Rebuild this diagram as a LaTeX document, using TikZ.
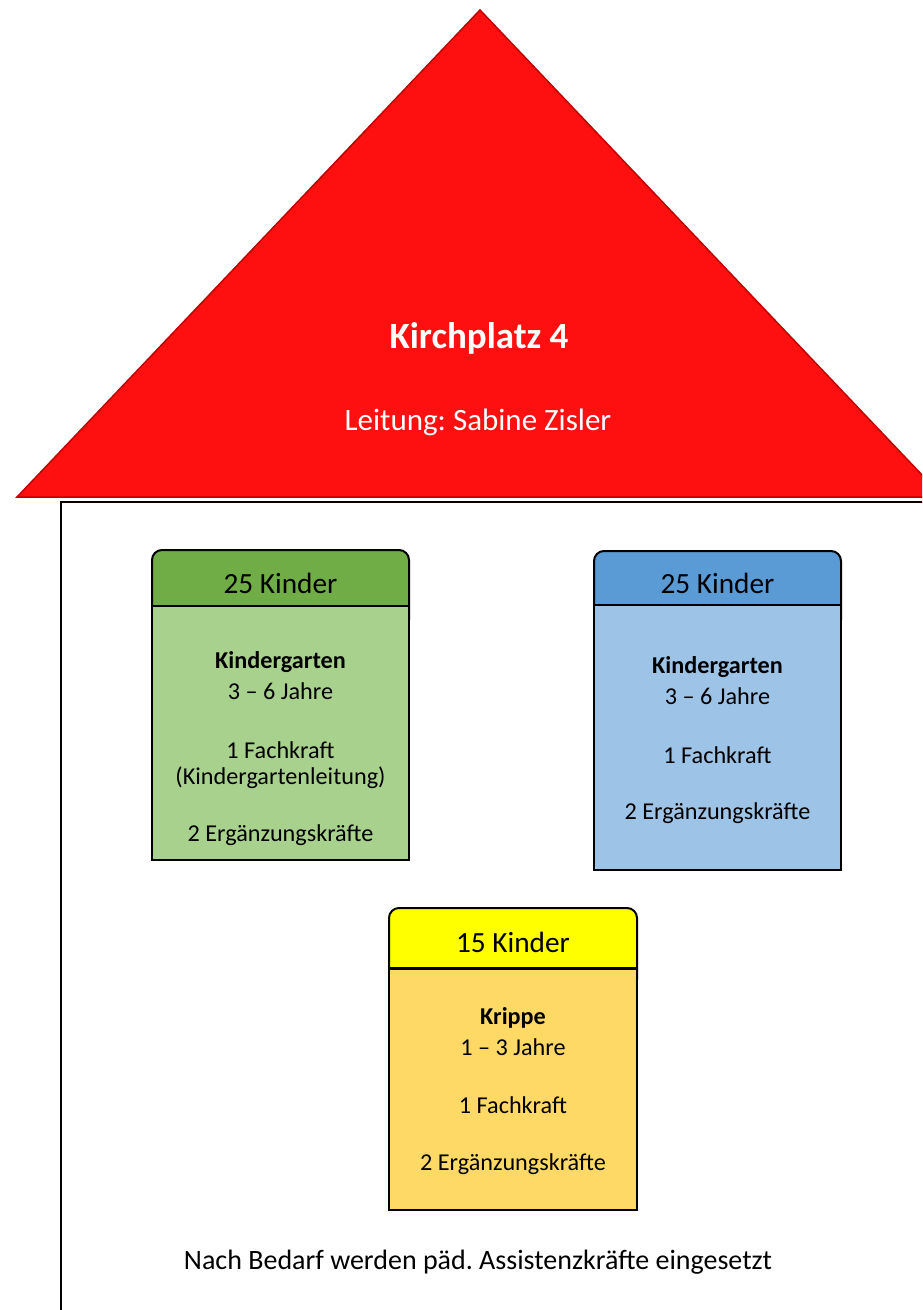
\documentclass[tikz,border=0pt]{standalone}
\usepackage{fontspec}
\setmainfont{Carlito}
\definecolor{roofred}{HTML}{FF1010}
\definecolor{roofedge}{HTML}{C00000}
\definecolor{ghead}{HTML}{70AD47}
\definecolor{gbody}{HTML}{A9D18E}
\definecolor{bhead}{HTML}{5B9BD5}
\definecolor{bbody}{HTML}{9DC3E6}
\definecolor{yhead}{HTML}{FFFF00}
\definecolor{ybody}{HTML}{FFD966}
\tikzset{
  boxline/.style={draw=black, line width=2pt},
  hdr/.style={font=\fontsize{29.3}{35}\selectfont, inner sep=0pt, anchor=center},
  body/.style={font=\fontsize{24.2}{29}\selectfont, inner sep=0pt, anchor=center},
  bodyb/.style={font=\fontsize{24.2}{29}\selectfont\bfseries, inner sep=0pt, anchor=center},
}
\begin{document}
\frenchspacing
\begin{tikzpicture}[x=1pt,y=-1pt]
\useasboundingbox (0,0) rectangle (922,1310);
\clip (0,0) rectangle (922,1310);
% roof
\draw[fill=roofred, draw=roofedge, line width=1.5pt, line join=miter] (480,10) -- (17,497) -- (943,497) -- cycle;
% house
\draw[line width=2pt] (61,1330) -- (61,502) -- (940,502);
% green box
\draw[boxline, fill=ghead, rounded corners=10pt] (152,550) rectangle (409,630);
\draw[boxline, fill=gbody] (152,606) rectangle (409,860);
\draw[line width=2.5pt] (152,606) -- (409,606);
% blue box
\draw[boxline, fill=bhead, rounded corners=10pt] (594,551) rectangle (841,630);
\draw[boxline, fill=bbody] (594,605) rectangle (841,870);
\draw[line width=2.5pt] (594,605) -- (841,605);
% yellow box
\draw[boxline, fill=yhead, rounded corners=10pt] (389,908) rectangle (637,990);
\draw[boxline, fill=ybody] (389,968) rectangle (637,1210);
\draw[line width=3pt] (389,968) -- (637,968);
% roof texts
\node[font=\fontsize{37}{44}\selectfont\bfseries, text=white, inner sep=0pt] (title) at (479,338) {Kirchplatz 4};
\node[font=\fontsize{31}{38}\selectfont, text=white, inner sep=0pt] (lead) at (478,422) {Leitung: Sabine Zisler};
% green texts
\node[hdr] (g0) at (280.5,583) {25 Kinder};
\node[bodyb] (g1) at (280.5,662) {Kindergarten};
\node[body] (g2) at (280.5,691) {3 – 6 Jahre};
\node[body] (g3) at (280.5,750) {1 Fachkraft};
\node[body] (g4) at (280.5,778) {(Kindergartenleitung)};
\node[body] (g5) at (280.5,835) {2 Ergänzungskräfte};
% blue texts
\node[hdr] (b0) at (717.5,583) {25 Kinder};
\node[bodyb] (b1) at (717.5,667) {Kindergarten};
\node[body] (b2) at (717.5,696) {3 – 6 Jahre};
\node[body] (b3) at (717.5,755) {1 Fachkraft};
\node[body] (b4) at (717.5,813) {2 Ergänzungskräfte};
% yellow texts
\node[hdr] (y0) at (513,942) {15 Kinder};
\node[bodyb] (y1) at (513,1018) {Krippe};
\node[body] (y2) at (513,1047) {1 – 3 Jahre};
\node[body] (y3) at (513,1105) {1 Fachkraft};
\node[body] (y4) at (513,1164) {2 Ergänzungskräfte};
% bottom text
\node[font=\fontsize{28}{34}\selectfont, inner sep=0pt] (note) at (478,1262) {Nach Bedarf werden päd. Assistenzkräfte eingesetzt};
\end{tikzpicture}
\end{document}
